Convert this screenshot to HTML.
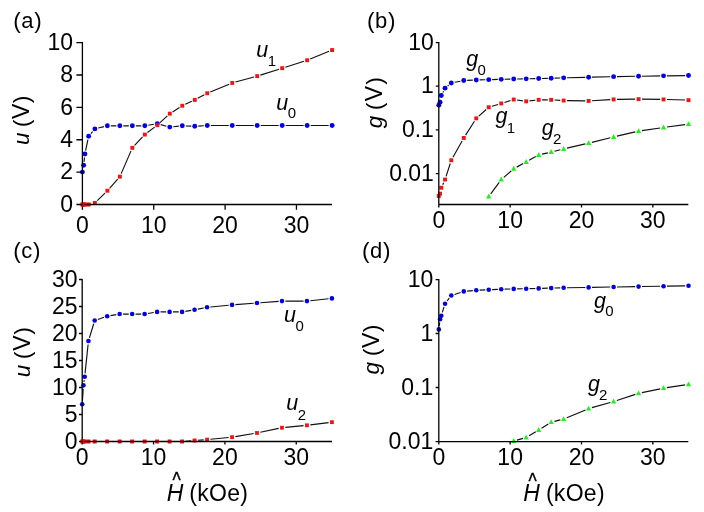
<!DOCTYPE html>
<html lang="en"><head><meta charset="utf-8"><title>Figure</title>
<style>
html,body{margin:0;padding:0;background:#fff;}
body{width:704px;height:512px;overflow:hidden;}
svg{display:block;}
.t{font-family:"Liberation Sans",sans-serif;font-size:23px;fill:#000;}
.i{font-style:italic;font-size:21.5px;}
.s{font-family:"Liberation Sans",sans-serif;font-size:15px;fill:#000;}
.H{font-size:23px;}
.yl{font-size:22.5px;}
.p{font-size:22px;}
.q{font-size:22.5px;}
.pl{letter-spacing:0.6px;font-size:22px;}
.ko{letter-spacing:0.3px;}
.h{font-family:"Liberation Sans",sans-serif;font-size:17.5px;fill:#000;stroke:#000;stroke-width:0.35px;}
.ax{stroke:#000;stroke-width:1.3;fill:none;}
.ln{stroke:#111;stroke-width:1.15;fill:none;}
.bl{fill:#0000e6;}
.rd{fill:#f01414;}
.rk{fill:#d01018;}
.ro{fill:#e01016;opacity:0.35;}
.gr{fill:#20f020;}
</style></head><body>
<svg width="704" height="512" viewBox="0 0 704 512">
<rect width="704" height="512" fill="#fff"/>
<g id="pa">
<text class="t pl" x="13.2" y="28.2"><tspan class="q">(</tspan>a<tspan class="q">)</tspan></text>
<text class="t i yl" transform="translate(29.2,145) rotate(-90)">u</text>
<text class="t" letter-spacing="0.55" transform="translate(29.2,126.9) rotate(-90)"><tspan class="p">(</tspan>V<tspan class="p">)</tspan></text>
<text class="t" text-anchor="middle" x="82.4" y="232.8">0</text>
<text class="t" text-anchor="middle" x="153.75" y="232.8">10</text>
<text class="t" text-anchor="middle" x="225.1" y="232.8">20</text>
<text class="t" text-anchor="middle" x="296.45" y="232.8">30</text>
<text class="t" text-anchor="end" x="73" y="211.7">0</text>
<text class="t" text-anchor="end" x="73" y="179.32">2</text>
<text class="t" text-anchor="end" x="73" y="146.94">4</text>
<text class="t" text-anchor="end" x="73" y="114.56">6</text>
<text class="t" text-anchor="end" x="73" y="82.18">8</text>
<text class="t" text-anchor="end" x="73" y="49.8">10</text>
<path class="ln" d="M84.03,161.84 L84.51,157.47 M85.62,150.56 L87.92,139.6 M90.92,133.52 L92.61,131.55 M98.28,128.06 L103.97,126.65 M110.87,125.82 L116.36,125.82 M123.36,125.82 L128.84,125.82 M135.84,125.82 L141.33,125.82 M148.28,125.23 L153.87,124.29 M160.69,124.63 L166.43,126.19 M173.29,126.75 L178.81,126.18 M185.79,125.95 L191.28,126.17 M198.27,126.08 L203.77,125.72 M210.76,125.49 L228.74,125.49 M235.74,125.49 L253.71,125.49 M260.71,125.49 L278.68,125.49 M285.68,125.49 L303.65,125.49 M310.65,125.49 L328.62,125.49"/>
<path class="ln" d="M97.25,200.58 L105.01,193.04 M109.56,188.27 L117.67,179.12 M121.17,173.63 L131.03,150.86 M134.61,145.43 L142.57,136.96 M147.47,132.58 L154.68,127.15 M159.75,122.93 L167.38,115.91 M172.59,111.9 L179.5,107.51 M185.28,104.35 L191.79,101.31 M197.69,98.36 L204.35,94.82 M210.31,92.01 L229.19,84.18 M235.42,82.05 L254.02,76.98 M260.35,75.11 L279.03,69.18 M285.33,67.18 L304.01,61.25 M310.21,59 L329.07,51.3"/>
<circle class="bl" cx="82.4" cy="172.12" r="2.45"/>
<circle class="bl" cx="83.65" cy="165.32" r="2.45"/>
<circle class="bl" cx="84.9" cy="153.99" r="2.45"/>
<circle class="bl" cx="88.64" cy="136.18" r="2.45"/>
<circle class="bl" cx="94.89" cy="128.89" r="2.45"/>
<circle class="bl" cx="107.37" cy="125.82" r="2.45"/>
<circle class="bl" cx="119.86" cy="125.82" r="2.45"/>
<circle class="bl" cx="132.34" cy="125.82" r="2.45"/>
<circle class="bl" cx="144.83" cy="125.82" r="2.45"/>
<circle class="bl" cx="157.32" cy="123.71" r="2.45"/>
<circle class="bl" cx="169.8" cy="127.11" r="2.45"/>
<circle class="bl" cx="182.29" cy="125.82" r="2.45"/>
<circle class="bl" cx="194.78" cy="126.3" r="2.45"/>
<circle class="bl" cx="207.26" cy="125.49" r="2.45"/>
<circle class="bl" cx="232.24" cy="125.49" r="2.45"/>
<circle class="bl" cx="257.21" cy="125.49" r="2.45"/>
<circle class="bl" cx="282.18" cy="125.49" r="2.45"/>
<circle class="bl" cx="307.15" cy="125.49" r="2.45"/>
<circle class="bl" cx="332.12" cy="125.49" r="2.45"/>
<rect class="rk" x="80.45" y="202.55" width="3.9" height="3.9"/>
<rect class="rk" x="81.7" y="202.55" width="3.9" height="3.9"/>
<rect class="rk" x="82.95" y="202.55" width="3.9" height="3.9"/>
<rect class="rk" x="86.69" y="202.55" width="3.9" height="3.9"/>
<rect class="rd" x="92.94" y="200.93" width="3.9" height="3.9"/>
<rect class="rd" x="105.42" y="188.79" width="3.9" height="3.9"/>
<rect class="rd" x="117.91" y="174.7" width="3.9" height="3.9"/>
<rect class="rd" x="130.4" y="145.88" width="3.9" height="3.9"/>
<rect class="rd" x="142.88" y="132.61" width="3.9" height="3.9"/>
<rect class="rd" x="155.37" y="123.22" width="3.9" height="3.9"/>
<rect class="rd" x="167.85" y="111.72" width="3.9" height="3.9"/>
<rect class="rd" x="180.34" y="103.79" width="3.9" height="3.9"/>
<rect class="rd" x="192.83" y="97.96" width="3.9" height="3.9"/>
<rect class="rd" x="205.31" y="91.32" width="3.9" height="3.9"/>
<rect class="rd" x="230.29" y="80.96" width="3.9" height="3.9"/>
<rect class="rd" x="255.26" y="74.16" width="3.9" height="3.9"/>
<rect class="rd" x="280.23" y="66.23" width="3.9" height="3.9"/>
<rect class="rd" x="305.2" y="58.3" width="3.9" height="3.9"/>
<rect class="rd" x="330.18" y="48.1" width="3.9" height="3.9"/>
<text class="t i" x="256.3" y="57">u</text>
<text class="s" x="267.8" y="66.2">1</text>
<text class="t i" x="276.3" y="110.3">u</text>
<text class="s" x="287.8" y="118.3">0</text>
<path class="ax" d="M82.4,42 V204.5 H332 M82.4,204.5 v5.2 M153.75,204.5 v5.2 M225.1,204.5 v5.2 M296.45,204.5 v5.2 M82.4,204.5 h-6 M82.4,172.12 h-6 M82.4,139.74 h-6 M82.4,107.36 h-6 M82.4,74.98 h-6 M82.4,42.6 h-6"/>
<rect class="ro" x="80.45" y="202.55" width="3.9" height="3.9"/>
<rect class="ro" x="81.7" y="202.55" width="3.9" height="3.9"/>
<rect class="ro" x="82.95" y="202.55" width="3.9" height="3.9"/>
<rect class="ro" x="86.69" y="202.55" width="3.9" height="3.9"/>
</g>
<g id="pb">
<text class="t pl" x="367" y="28.2"><tspan class="q">(</tspan>b<tspan class="q">)</tspan></text>
<text class="t i yl" transform="translate(382.1,128.3) rotate(-90)">g</text>
<text class="t" letter-spacing="1.4" transform="translate(382.1,109.9) rotate(-90)"><tspan class="p">(</tspan>V<tspan class="p">)</tspan></text>
<text class="t" text-anchor="middle" x="438.8" y="227.7">0</text>
<text class="t" text-anchor="middle" x="510.15" y="227.7">10</text>
<text class="t" text-anchor="middle" x="581.5" y="227.7">20</text>
<text class="t" text-anchor="middle" x="652.85" y="227.7">30</text>
<text class="t" text-anchor="end" x="433.9" y="49.6">10</text>
<text class="t" text-anchor="end" x="433.9" y="93.2">1</text>
<text class="t" text-anchor="end" x="433.9" y="136.9">0.1</text>
<text class="t" text-anchor="end" x="433.9" y="180.6">0.01</text>
<path class="ln" d="M442.85,92.43 L443.49,91.17 M447.66,85.97 L448.67,85.13 M454.63,82.31 L460.43,81.19 M467.17,80.39 L472.86,80.11 M479.66,79.87 L485.35,79.73 M492.14,79.57 L497.83,79.43 M504.63,79.27 L510.32,79.13 M517.12,79 L522.8,78.9 M529.6,78.77 L535.29,78.63 M542.09,78.47 L547.78,78.33 M554.57,78.14 L560.26,77.96 M567.06,77.77 L585.24,77.33 M592.03,77.17 L610.21,76.73 M617.01,76.6 L635.18,76.3 M641.98,76.2 L660.15,75.9 M666.95,75.81 L685.13,75.59"/>
<path class="ln" d="M442.71,184.66 L443.63,182.64 M446.09,176.32 L450.24,163.48 M452.95,157.28 L462.11,140.92 M465.6,135.08 L474.43,121.22 M478.8,116.09 L486.2,109.51 M492,106.26 L497.98,104.44 M504.48,102.44 L510.47,100.56 M517.08,100.04 L522.84,100.86 M529.58,100.94 L535.31,100.26 M542.09,99.85 L547.78,99.85 M554.57,100.04 L560.27,100.36 M567.06,100.6 L585.24,100.9 M592.03,100.75 L610.21,99.65 M617.01,99.41 L635.18,99.19 M641.98,99.19 L660.15,99.41 M666.95,99.55 L685.13,100.05"/>
<path class="ln" d="M490.76,193.81 L499.22,182.29 M503.8,177.33 L511.15,170.97 M516.7,167.12 L523.22,163.58 M529.17,160.29 L535.72,156.61 M542,154.18 L547.86,152.82 M554.48,151.23 L560.36,149.77 M566.97,148.18 L585.32,143.92 M591.93,142.33 L610.31,137.77 M616.92,136.18 L635.27,131.92 M641.94,130.65 L660.19,127.95 M666.92,127 L685.15,124.6"/>
<rect class="rd" x="436.85" y="194" width="3.9" height="3.9"/>
<rect class="rd" x="438.1" y="191.7" width="3.9" height="3.9"/>
<rect class="rd" x="439.35" y="185.8" width="3.9" height="3.9"/>
<rect class="rd" x="443.09" y="177.6" width="3.9" height="3.9"/>
<rect class="rd" x="449.34" y="158.3" width="3.9" height="3.9"/>
<rect class="rd" x="461.82" y="136" width="3.9" height="3.9"/>
<rect class="rd" x="474.31" y="116.4" width="3.9" height="3.9"/>
<rect class="rd" x="486.8" y="105.3" width="3.9" height="3.9"/>
<rect class="rd" x="499.28" y="101.5" width="3.9" height="3.9"/>
<rect class="rd" x="511.77" y="97.6" width="3.9" height="3.9"/>
<rect class="rd" x="524.25" y="99.4" width="3.9" height="3.9"/>
<rect class="rd" x="536.74" y="97.9" width="3.9" height="3.9"/>
<rect class="rd" x="549.23" y="97.9" width="3.9" height="3.9"/>
<rect class="rd" x="561.71" y="98.6" width="3.9" height="3.9"/>
<rect class="rd" x="586.68" y="99" width="3.9" height="3.9"/>
<rect class="rd" x="611.66" y="97.5" width="3.9" height="3.9"/>
<rect class="rd" x="636.63" y="97.2" width="3.9" height="3.9"/>
<rect class="rd" x="661.6" y="97.5" width="3.9" height="3.9"/>
<rect class="rd" x="686.57" y="98.2" width="3.9" height="3.9"/>
<circle class="bl" cx="438.8" cy="105.15" r="2.45"/>
<circle class="bl" cx="440.05" cy="102.25" r="2.45"/>
<circle class="bl" cx="441.3" cy="95.45" r="2.45"/>
<circle class="bl" cx="445.04" cy="88.15" r="2.45"/>
<circle class="bl" cx="451.29" cy="82.95" r="2.45"/>
<circle class="bl" cx="463.77" cy="80.55" r="2.45"/>
<circle class="bl" cx="476.26" cy="79.95" r="2.45"/>
<circle class="bl" cx="488.75" cy="79.65" r="2.45"/>
<circle class="bl" cx="501.23" cy="79.35" r="2.45"/>
<circle class="bl" cx="513.72" cy="79.05" r="2.45"/>
<circle class="bl" cx="526.2" cy="78.85" r="2.45"/>
<circle class="bl" cx="538.69" cy="78.55" r="2.45"/>
<circle class="bl" cx="551.18" cy="78.25" r="2.45"/>
<circle class="bl" cx="563.66" cy="77.85" r="2.45"/>
<circle class="bl" cx="588.63" cy="77.25" r="2.45"/>
<circle class="bl" cx="613.61" cy="76.65" r="2.45"/>
<circle class="bl" cx="638.58" cy="76.25" r="2.45"/>
<circle class="bl" cx="663.55" cy="75.85" r="2.45"/>
<circle class="bl" cx="688.52" cy="75.55" r="2.45"/>
<polygon class="gr" points="488.75,193.61 486.1,198.51 491.39,198.51"/>
<polygon class="gr" points="501.23,176.61 498.58,181.51 503.88,181.51"/>
<polygon class="gr" points="513.72,165.81 511.07,170.71 516.37,170.71"/>
<polygon class="gr" points="526.2,159.01 523.55,163.91 528.85,163.91"/>
<polygon class="gr" points="538.69,152.01 536.04,156.91 541.34,156.91"/>
<polygon class="gr" points="551.18,149.11 548.53,154.01 553.83,154.01"/>
<polygon class="gr" points="563.66,146.01 561.01,150.91 566.31,150.91"/>
<polygon class="gr" points="588.63,140.21 585.99,145.11 591.28,145.11"/>
<polygon class="gr" points="613.61,134.01 610.96,138.91 616.26,138.91"/>
<polygon class="gr" points="638.58,128.21 635.93,133.11 641.23,133.11"/>
<polygon class="gr" points="663.55,124.51 660.9,129.41 666.2,129.41"/>
<polygon class="gr" points="688.52,121.21 685.88,126.11 691.17,126.11"/>
<text class="t i" x="466.2" y="65.7">g</text>
<text class="s" x="477.4" y="75.2">0</text>
<text class="t i" x="495.5" y="123.2">g</text>
<text class="s" x="506.7" y="132.7">1</text>
<text class="t i" x="541.7" y="134.8">g</text>
<text class="s" x="552.9" y="144.3">2</text>
<path class="ax" d="M438.8,42 V204.5 H688.3 M438.8,204.5 v3.1 M510.15,204.5 v3.1 M581.5,204.5 v3.1 M652.85,204.5 v3.1 M438.8,42.6 h-3 M438.8,86.2 h-3 M438.8,129.9 h-3 M438.8,173.6 h-3"/>
</g>
<g id="pc">
<text class="t pl" x="13.2" y="258.3"><tspan class="q">(</tspan>c<tspan class="q">)</tspan></text>
<text class="t i yl" transform="translate(29.8,377.2) rotate(-90)">u</text>
<text class="t" letter-spacing="0.95" transform="translate(29.8,359.1) rotate(-90)"><tspan class="p">(</tspan>V<tspan class="p">)</tspan></text>
<text class="t" text-anchor="middle" x="82.2" y="464.9">0</text>
<text class="t" text-anchor="middle" x="153.55" y="464.9">10</text>
<text class="t" text-anchor="middle" x="224.9" y="464.9">20</text>
<text class="t" text-anchor="middle" x="296.25" y="464.9">30</text>
<text class="t" text-anchor="end" x="77.6" y="449">0</text>
<text class="t" text-anchor="end" x="77.6" y="422">5</text>
<text class="t" text-anchor="end" x="77.6" y="395">10</text>
<text class="t" text-anchor="end" x="77.6" y="368">15</text>
<text class="t" text-anchor="end" x="77.6" y="341">20</text>
<text class="t" text-anchor="end" x="77.6" y="314">25</text>
<text class="t" text-anchor="end" x="77.6" y="287">30</text>
<path class="ln" d="M82.42,400.85 L83.22,388.73 M83.93,381.97 L84.21,380.07 M85.05,373.32 L88.09,344.44 M89.43,337.81 L93.7,323.79 M97.9,319.43 L103.96,317.33 M110.52,315.64 L116.31,314.64 M123.06,314.06 L128.75,314.06 M135.55,314.06 L141.23,314.06 M147.98,313.48 L153.77,312.48 M160.52,311.9 L166.2,311.9 M173,311.9 L178.69,311.9 M185.44,311.32 L191.23,310.32 M197.91,309.09 L203.73,307.96 M210.45,306.98 L228.65,305.21 M235.43,304.62 L253.62,303.25 M260.4,302.73 L278.59,301.36 M285.38,301.1 L303.55,301.1 M310.33,300.73 L328.54,298.77"/>
<path class="ln" d="M98.09,441.5 L103.77,441.5 M110.57,441.5 L116.26,441.5 M123.06,441.5 L128.75,441.5 M135.55,441.5 L141.23,441.5 M148.03,441.5 L153.72,441.5 M160.52,441.5 L166.2,441.5 M173,441.5 L178.69,441.5 M185.48,441.24 L191.19,440.79 M197.97,440.28 L203.67,439.86 M210.45,439.27 L228.65,437.46 M235.39,436.57 L253.65,433.53 M260.34,432.27 L278.65,428.43 M285.36,427.4 L303.57,425.63 M310.33,424.88 L328.55,422.59"/>
<rect class="rk" x="80.3" y="439.6" width="3.8" height="3.8"/>
<rect class="rk" x="81.55" y="439.6" width="3.8" height="3.8"/>
<rect class="rk" x="82.8" y="439.6" width="3.8" height="3.8"/>
<rect class="rk" x="86.54" y="439.6" width="3.8" height="3.8"/>
<rect class="rk" x="92.79" y="439.6" width="3.8" height="3.8"/>
<rect class="rk" x="105.27" y="439.6" width="3.8" height="3.8"/>
<rect class="rk" x="117.76" y="439.6" width="3.8" height="3.8"/>
<rect class="rk" x="130.25" y="439.6" width="3.8" height="3.8"/>
<rect class="rk" x="142.73" y="439.6" width="3.8" height="3.8"/>
<rect class="rk" x="155.22" y="439.6" width="3.8" height="3.8"/>
<rect class="rk" x="167.7" y="439.6" width="3.8" height="3.8"/>
<rect class="rk" x="180.19" y="439.6" width="3.8" height="3.8"/>
<rect class="rd" x="192.68" y="438.63" width="3.8" height="3.8"/>
<rect class="rd" x="205.16" y="437.71" width="3.8" height="3.8"/>
<rect class="rd" x="230.14" y="435.23" width="3.8" height="3.8"/>
<rect class="rd" x="255.11" y="431.07" width="3.8" height="3.8"/>
<rect class="rd" x="280.08" y="425.83" width="3.8" height="3.8"/>
<rect class="rd" x="305.05" y="423.4" width="3.8" height="3.8"/>
<rect class="rd" x="330.03" y="420.27" width="3.8" height="3.8"/>
<circle class="bl" cx="82.2" cy="404.24" r="2.3"/>
<circle class="bl" cx="83.45" cy="385.34" r="2.3"/>
<circle class="bl" cx="84.7" cy="376.7" r="2.3"/>
<circle class="bl" cx="88.44" cy="341.06" r="2.3"/>
<circle class="bl" cx="94.69" cy="320.54" r="2.3"/>
<circle class="bl" cx="107.17" cy="316.22" r="2.3"/>
<circle class="bl" cx="119.66" cy="314.06" r="2.3"/>
<circle class="bl" cx="132.15" cy="314.06" r="2.3"/>
<circle class="bl" cx="144.63" cy="314.06" r="2.3"/>
<circle class="bl" cx="157.12" cy="311.9" r="2.3"/>
<circle class="bl" cx="169.6" cy="311.9" r="2.3"/>
<circle class="bl" cx="182.09" cy="311.9" r="2.3"/>
<circle class="bl" cx="194.58" cy="309.74" r="2.3"/>
<circle class="bl" cx="207.06" cy="307.31" r="2.3"/>
<circle class="bl" cx="232.04" cy="304.88" r="2.3"/>
<circle class="bl" cx="257.01" cy="302.99" r="2.3"/>
<circle class="bl" cx="281.98" cy="301.1" r="2.3"/>
<circle class="bl" cx="306.95" cy="301.1" r="2.3"/>
<circle class="bl" cx="331.93" cy="298.4" r="2.3"/>
<text class="t i" x="283.9" y="321.8">u</text>
<text class="s" x="295.4" y="331">0</text>
<text class="t i" x="286.3" y="410.3">u</text>
<text class="s" x="297.8" y="419.5">2</text>
<text class="t i H" x="166.7" y="500.8">H</text>
<text class="h" transform="translate(172.6,486.5) scale(1,1.25)">^</text>
<text class="t ko" x="189.3" y="500.8">(kOe)</text>
<path class="ax" d="M82.2,279 V441.5 H332 M82.2,441.5 v3 M153.55,441.5 v3 M224.9,441.5 v3 M296.25,441.5 v3 M82.2,441.5 h-3.2 M82.2,414.5 h-3.2 M82.2,387.5 h-3.2 M82.2,360.5 h-3.2 M82.2,333.5 h-3.2 M82.2,306.5 h-3.2 M82.2,279.5 h-3.2"/>
<rect class="ro" x="80.3" y="439.6" width="3.8" height="3.8"/>
<rect class="ro" x="81.55" y="439.6" width="3.8" height="3.8"/>
<rect class="ro" x="82.8" y="439.6" width="3.8" height="3.8"/>
<rect class="ro" x="86.54" y="439.6" width="3.8" height="3.8"/>
<rect class="ro" x="92.79" y="439.6" width="3.8" height="3.8"/>
<rect class="ro" x="105.27" y="439.6" width="3.8" height="3.8"/>
<rect class="ro" x="117.76" y="439.6" width="3.8" height="3.8"/>
<rect class="ro" x="130.25" y="439.6" width="3.8" height="3.8"/>
<rect class="ro" x="142.73" y="439.6" width="3.8" height="3.8"/>
<rect class="ro" x="155.22" y="439.6" width="3.8" height="3.8"/>
<rect class="ro" x="167.7" y="439.6" width="3.8" height="3.8"/>
<rect class="ro" x="180.19" y="439.6" width="3.8" height="3.8"/>
<rect class="ro" x="192.68" y="438.63" width="3.8" height="3.8"/>
</g>
<g id="pd">
<text class="t pl" x="362" y="258.1"><tspan class="q">(</tspan>d<tspan class="q">)</tspan></text>
<text class="t i yl" transform="translate(379,374.5) rotate(-90)">g</text>
<text class="t" letter-spacing="0.65" transform="translate(379,356.1) rotate(-90)"><tspan class="p">(</tspan>V<tspan class="p">)</tspan></text>
<text class="t" text-anchor="middle" x="438.8" y="465.3">0</text>
<text class="t" text-anchor="middle" x="510.15" y="465.3">10</text>
<text class="t" text-anchor="middle" x="581.5" y="465.3">20</text>
<text class="t" text-anchor="middle" x="652.85" y="465.3">30</text>
<text class="t" text-anchor="end" x="433.3" y="286.8">10</text>
<text class="t" text-anchor="end" x="433.3" y="340.7">1</text>
<text class="t" text-anchor="end" x="433.3" y="394.7">0.1</text>
<text class="t" text-anchor="end" x="433.3" y="448.8">0.01</text>
<path class="ln" d="M439.22,326.03 L439.63,322.67 M442.31,312.45 L444.03,306.95 M447.1,300.99 L449.23,298.21 M454.52,294.44 L460.54,292.46 M467.16,291.1 L472.87,290.6 M479.65,290.14 L485.35,289.86 M492.14,289.59 L497.83,289.41 M504.63,289.19 L510.32,289.01 M517.12,288.85 L522.8,288.75 M529.6,288.62 L535.29,288.48 M542.09,288.32 L547.78,288.18 M554.58,288.02 L560.26,287.88 M567.06,287.75 L585.24,287.45 M592.03,287.35 L610.21,287.05 M617.01,286.95 L635.18,286.65 M641.98,286.55 L660.15,286.25 M666.95,286.15 L685.13,285.85"/>
<path class="ln" d="M516.99,440.08 L522.93,438.42 M529.12,435.75 L535.78,431.75 M541.57,428.2 L548.29,424 M554.48,421.38 L560.36,419.92 M566.8,417.78 L585.5,409.92 M591.91,407.67 L610.34,402.43 M616.84,400.44 L635.35,394.36 M641.91,392.62 L660.22,388.88 M666.91,387.68 L685.17,384.82"/>
<circle class="bl" cx="438.8" cy="329.4" r="2.3"/>
<circle class="bl" cx="440.05" cy="319.3" r="2.3"/>
<circle class="bl" cx="441.3" cy="315.7" r="2.3"/>
<circle class="bl" cx="445.04" cy="303.7" r="2.3"/>
<circle class="bl" cx="451.29" cy="295.5" r="2.3"/>
<circle class="bl" cx="463.77" cy="291.4" r="2.3"/>
<circle class="bl" cx="476.26" cy="290.3" r="2.3"/>
<circle class="bl" cx="488.75" cy="289.7" r="2.3"/>
<circle class="bl" cx="501.23" cy="289.3" r="2.3"/>
<circle class="bl" cx="513.72" cy="288.9" r="2.3"/>
<circle class="bl" cx="526.2" cy="288.7" r="2.3"/>
<circle class="bl" cx="538.69" cy="288.4" r="2.3"/>
<circle class="bl" cx="551.18" cy="288.1" r="2.3"/>
<circle class="bl" cx="563.66" cy="287.8" r="2.3"/>
<circle class="bl" cx="588.63" cy="287.4" r="2.3"/>
<circle class="bl" cx="613.61" cy="287" r="2.3"/>
<circle class="bl" cx="638.58" cy="286.6" r="2.3"/>
<circle class="bl" cx="663.55" cy="286.2" r="2.3"/>
<circle class="bl" cx="688.52" cy="285.8" r="2.3"/>
<polygon class="gr" points="513.72,438.12 511.12,442.92 516.32,442.92"/>
<polygon class="gr" points="526.2,434.62 523.6,439.42 528.8,439.42"/>
<polygon class="gr" points="538.69,427.12 536.09,431.92 541.29,431.92"/>
<polygon class="gr" points="551.18,419.32 548.58,424.12 553.78,424.12"/>
<polygon class="gr" points="563.66,416.22 561.06,421.02 566.26,421.02"/>
<polygon class="gr" points="588.63,405.72 586.03,410.52 591.24,410.52"/>
<polygon class="gr" points="613.61,398.62 611.01,403.42 616.21,403.42"/>
<polygon class="gr" points="638.58,390.42 635.98,395.22 641.18,395.22"/>
<polygon class="gr" points="663.55,385.32 660.95,390.12 666.15,390.12"/>
<polygon class="gr" points="688.52,381.42 685.92,386.22 691.12,386.22"/>
<text class="t i" x="594" y="307.6">g</text>
<text class="s" x="605.2" y="316.3">0</text>
<text class="t i" x="587.9" y="391.3">g</text>
<text class="s" x="599.1" y="400.1">2</text>
<text class="t i H" x="523.3" y="500.8">H</text>
<text class="h" transform="translate(528.6,487.6) scale(1,1.25)">^</text>
<text class="t ko" x="545.9" y="500.8">(kOe)</text>
<path class="ax" d="M438.8,279 V441.6 H688.3 M438.8,441.6 v2.8 M510.15,441.6 v2.8 M581.5,441.6 v2.8 M652.85,441.6 v2.8 M438.8,279.6 h-3.2 M438.8,333.5 h-3.2 M438.8,387.5 h-3.2 M438.8,441.6 h-3.2"/>
</g>
</svg>
</body></html>
